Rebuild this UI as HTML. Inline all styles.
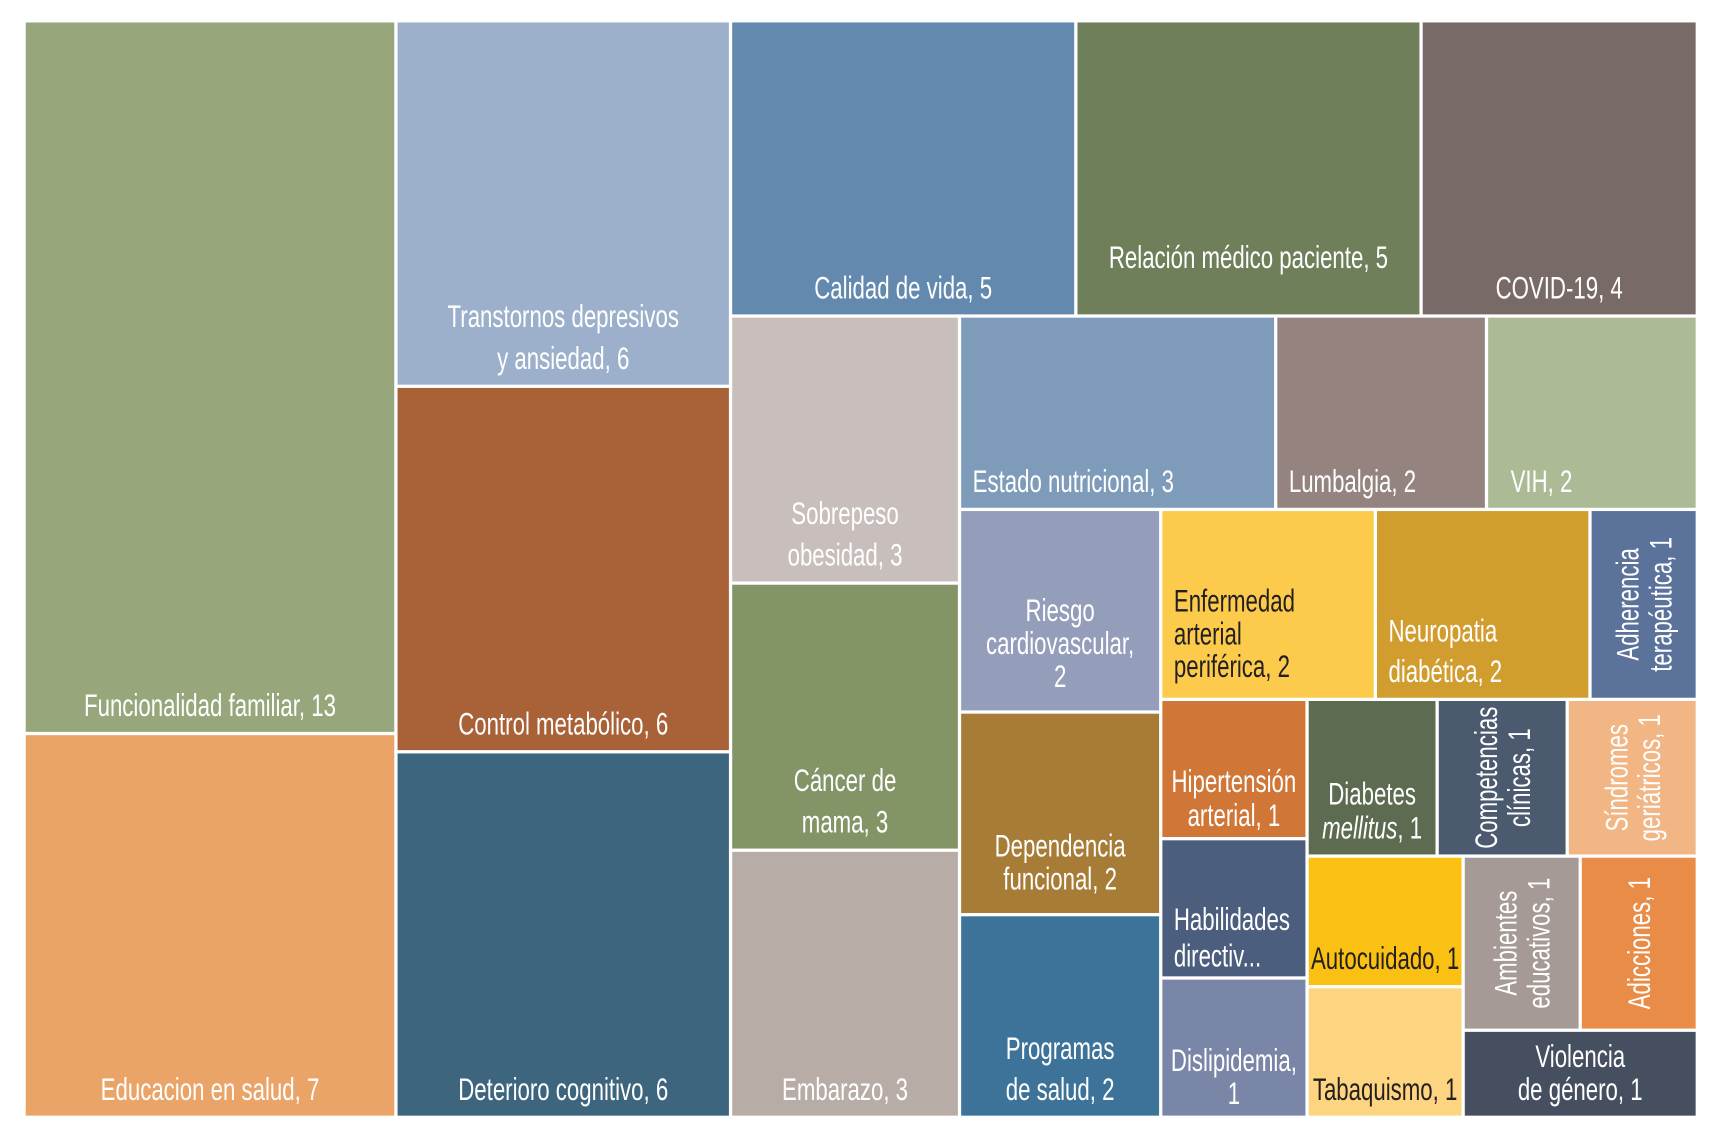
<!DOCTYPE html>
<html><head><meta charset="utf-8"><style>
html,body{margin:0;padding:0;background:#fff;}
svg{display:block;}
text{font-family:"Liberation Sans Narrow","Liberation Sans",sans-serif;font-size:29px;}
</style></head><body>
<svg id="tm" width="1717" height="1137" viewBox="0 0 1568 1038" preserveAspectRatio="none" xmlns="http://www.w3.org/2000/svg"></svg>
<script>
const labels=["Funcionalidad familiar","Educacion en salud","Transtornos depresivos y ansiedad","Control metabólico","Deterioro cognitivo","Calidad de vida","Relación médico paciente","COVID-19","Sobrepeso obesidad","Cáncer de mama","Embarazo","Estado nutricional","Lumbalgia","VIH","Riesgo cardiovascular","Dependencia funcional","Programas de salud","Enfermedad arterial periférica","Neuropatia diabética","Adherencia terapéutica","Hipertensión arterial","Habilidades directiv...","Dislipidemia","Diabetes mellitus","Competencias clínicas","Síndromes geriátricos","Autocuidado","Tabaquismo","Ambientes educativos","Adicciones","Violencia de género"];
const values=[13,7,6,6,6,5,5,4,3,3,3,3,2,2,2,2,2,2,2,1,1,1,1,1,1,1,1,1,1,1,1];
const groupSizes=[2,3,3,3,3,3,3,3,3,2,2,1];
const lines=[["Funcionalidad familiar, 13"],["Educacion en salud, 7"],["Transtornos depresivos","y ansiedad, 6"],["Control metabólico, 6"],["Deterioro cognitivo, 6"],["Calidad de vida, 5"],["Relación médico paciente, 5"],["COVID-19, 4"],["Sobrepeso","obesidad, 3"],["Cáncer de","mama, 3"],["Embarazo, 3"],["Estado nutricional, 3"],["Lumbalgia, 2"],["VIH, 2"],["Riesgo","cardiovascular,","2"],["Dependencia","funcional, 2"],["Programas","de salud, 2"],["Enfermedad","arterial","periférica, 2"],["Neuropatia","diabética, 2"],["Adherencia","terapéutica, 1"],["Hipertensión","arterial, 1"],["Habilidades","directiv..."],["Dislipidemia,","1"],["Diabetes","*mellitus*, 1"],["Competencias","clínicas, 1"],["Síndromes","geriátricos, 1"],["Autocuidado, 1"],["Tabaquismo, 1"],["Ambientes","educativos, 1"],["Adicciones, 1"],["Violencia","de género, 1"]];
const colors=["#97a77b","#eba468","#9db0cb","#a96238","#3e657e","#6389ae","#6f7f5a","#786a66","#c8bebb","#839566","#b8aca7","#7e9cba","#94837f","#adba96","#949eba","#a67c37","#3e7399","#fccb4c","#d09d2e","#5b729a","#d07637","#4b5e7e","#7a86a8","#5d6b50","#4b5a6f","#f2b584","#fbc112","#fdd47f","#a69a97","#e98c47","#464f60"];
const modes=["b","b","b","b","b","b","b2","b","b","b","b","bl","bl","bl","b3","b3","b","l","bl","r","c","l","c","b","r","r","b","b","r","r","b"];
const dark=[17,26,27];
const lhs=[38,38,38,38,38,38,38,38,38,38,38,38,38,38,30,30,37,30,37,30,31,33,30,31,30,30,30,30,30,30,30];

const svg=document.getElementById('tm');
const NS="http://www.w3.org/2000/svg";
const X0=22,Y0=19,X1=1550,Y1=1020,GAP=1.5,FS=29,SX=0.7;
const total=values.reduce((a,b)=>a+b,0);
function layout(){
  let x=X0,y=Y0,w=X1-X0,h=Y1-Y0,rem=total,idx=0,out=[];
  for(const g of groupSizes){
    const items=values.slice(idx,idx+g);const s=items.reduce((a,b)=>a+b,0);
    if(h<=w){const cw=w*s/rem;let yy=y;for(const v of items){const ch=h*v/s;out.push([x,yy,cw,ch]);yy+=ch;}x+=cw;w-=cw;}
    else{const rh=h*s/rem;let xx=x;for(const v of items){const cw=w*v/s;out.push([xx,y,cw,rh]);xx+=cw;}y+=rh;h-=rh;}
    rem-=s;idx+=g;
  }
  return out;
}
const rects=layout();
function addText(parent,str,x,y,anchor,fill,rot){
  const t=document.createElementNS(NS,'text');
  
  
  t.setAttribute('text-anchor',anchor);t.setAttribute('fill',fill);
  t.setAttribute('transform',`translate(${x},${y}) rotate(${rot}) scale(${SX},1)`);
  const parts=str.split('*');
  parts.forEach((p,i)=>{if(!p)return;const ts=document.createElementNS(NS,'tspan');ts.textContent=p;if(i%2===1)ts.setAttribute('font-style','italic');t.appendChild(ts);});
  parent.appendChild(t);
}
rects.forEach((r,i)=>{
  const g=document.createElementNS(NS,'g');
  
  
  const [x,y,w,h]=r;
  const re=document.createElementNS(NS,'rect');
  
  
  re.setAttribute('x',x+GAP);re.setAttribute('y',y+GAP);re.setAttribute('width',Math.max(0,w-2*GAP));re.setAttribute('height',Math.max(0,h-2*GAP));re.setAttribute('fill',colors[i]);
  g.appendChild(re);
  const L=lines[i],lh=lhs[i],m=modes[i],fill=dark.includes(i)?'#231f20':'#ffffff',n=L.length;
  const cx=x+w/2;
  if(m==='r'){
    const cy=y+h/2;const start=cx-(n-1)*lh/2+FS*0.36;
    L.forEach((s,k)=>addText(g,s,start+k*lh,cy,'middle',fill,-90));
  } else {
    let ax=cx,anchor='middle';
    if(m==='bl'||m==='l'){ax=x+(i===13?22:12);anchor='start';}
    let firstBase;
    if(m==='b'||m==='bl'){firstBase=y+h-16-(n-1)*lh;}
    else if(m==='b3'){firstBase=y+h-23-(n-1)*lh;}
    else if(m==='b2'){firstBase=y+h-44-(n-1)*lh;}
    else {firstBase=y+h/2-(n-1)*lh/2+FS*0.36+26;}
    L.forEach((s,k)=>addText(g,s,ax,firstBase+k*lh,anchor,fill,0));
  }
  svg.appendChild(g);
});
</script>
</body></html>
